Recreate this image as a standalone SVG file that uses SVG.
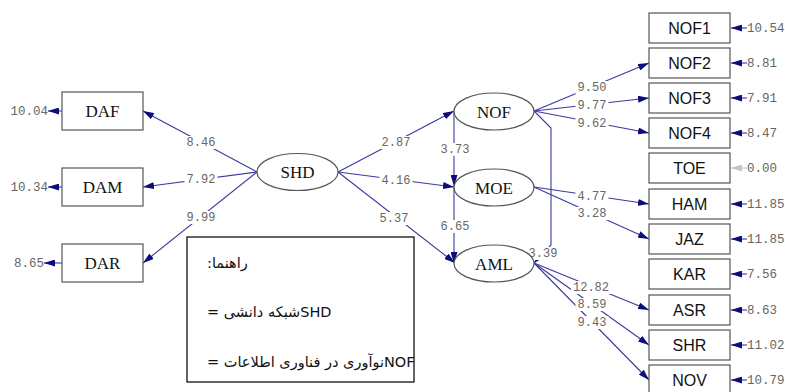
<svg xmlns="http://www.w3.org/2000/svg" width="785" height="392" viewBox="0 0 785 392">
<defs>
<marker id="ah" markerUnits="userSpaceOnUse" markerWidth="11" markerHeight="7" refX="11" refY="3.5" orient="auto"><path d="M0,0 L11,3.5 L0,7 z" fill="#0c0c7a"/></marker>
<marker id="ahg" markerUnits="userSpaceOnUse" markerWidth="11" markerHeight="7" refX="11" refY="3.5" orient="auto"><path d="M0,0 L11,3.5 L0,7 z" fill="#c4c4c4"/></marker>
<style>
.ln{stroke:#3a3aa0;stroke-width:1.1;fill:none}
.box{fill:#fff;stroke:#555;stroke-width:1.2}
.ell{fill:#fff;stroke:#555;stroke-width:1.2}
.ser{font-family:"Liberation Serif",serif;font-size:17px;fill:#111;text-anchor:middle}
.san{font-family:"Liberation Sans",sans-serif;font-size:16px;fill:#111;text-anchor:middle}
.num{font-family:"Liberation Mono",monospace;font-size:12px;fill:#666;text-anchor:middle}
.lb{fill:#fff}
.err{font-family:"Liberation Mono",monospace;font-size:12.5px;fill:#666}
.leg{font-family:"DejaVu Sans",sans-serif;font-size:14.5px;fill:#111}
</style>
</defs>
<rect width="785" height="392" fill="#fff"/>
<g id="connectors">
<line class="ln" x1="257" y1="172" x2="143" y2="111" marker-end="url(#ah)"/>
<line class="ln" x1="257" y1="172" x2="143" y2="187" marker-end="url(#ah)"/>
<line class="ln" x1="257" y1="172" x2="143" y2="263" marker-end="url(#ah)"/>
<line class="ln" x1="338" y1="172" x2="454" y2="111" marker-end="url(#ah)"/>
<line class="ln" x1="338" y1="172" x2="454" y2="187" marker-end="url(#ah)"/>
<line class="ln" x1="338" y1="172" x2="455" y2="263" marker-end="url(#ah)"/>
<line class="ln" x1="454" y1="111" x2="454" y2="186" marker-end="url(#ah)"/>
<line class="ln" x1="454" y1="187" x2="454" y2="263" marker-end="url(#ah)"/>
<path class="ln" d="M534,111 L551,128 L551,245 L534,263" marker-end="url(#ah)"/>
<line class="ln" x1="534" y1="111" x2="649" y2="63" marker-end="url(#ah)"/>
<line class="ln" x1="534" y1="111" x2="649" y2="98" marker-end="url(#ah)"/>
<line class="ln" x1="534" y1="111" x2="649" y2="133" marker-end="url(#ah)"/>
<line class="ln" x1="534" y1="187" x2="649" y2="204" marker-end="url(#ah)"/>
<line class="ln" x1="534" y1="187" x2="649" y2="239" marker-end="url(#ah)"/>
<line class="ln" x1="534" y1="263" x2="649" y2="310" marker-end="url(#ah)"/>
<line class="ln" x1="534" y1="263" x2="649" y2="345" marker-end="url(#ah)"/>
<line class="ln" x1="534" y1="263" x2="649" y2="380" marker-end="url(#ah)"/>
<line class="ln" x1="62" y1="111" x2="48" y2="111" marker-end="url(#ah)"/>
<line class="ln" x1="62" y1="187" x2="48" y2="187" marker-end="url(#ah)"/>
<line class="ln" x1="62" y1="263" x2="44" y2="263" marker-end="url(#ah)"/>
<line class="ln" x1="747" y1="28" x2="731" y2="28" marker-end="url(#ah)"/>
<line class="ln" x1="747" y1="63" x2="731" y2="63" marker-end="url(#ah)"/>
<line class="ln" x1="747" y1="98" x2="731" y2="98" marker-end="url(#ah)"/>
<line class="ln" x1="747" y1="133" x2="731" y2="133" marker-end="url(#ah)"/>
<line x1="747" y1="168" x2="731" y2="168" stroke="#c4c4c4" stroke-width="1.1" marker-end="url(#ahg)"/>
<line class="ln" x1="747" y1="204" x2="731" y2="204" marker-end="url(#ah)"/>
<line class="ln" x1="747" y1="239" x2="731" y2="239" marker-end="url(#ah)"/>
<line class="ln" x1="747" y1="274" x2="731" y2="274" marker-end="url(#ah)"/>
<line class="ln" x1="747" y1="310" x2="731" y2="310" marker-end="url(#ah)"/>
<line class="ln" x1="747" y1="345" x2="731" y2="345" marker-end="url(#ah)"/>
<line class="ln" x1="747" y1="380" x2="731" y2="380" marker-end="url(#ah)"/>
<rect class="lb" x="184.5" y="136" width="33" height="13"/>
<rect class="lb" x="184.5" y="173" width="33" height="13"/>
<rect class="lb" x="184.5" y="211" width="33" height="13"/>
<rect class="lb" x="379.5" y="136" width="33" height="13"/>
<rect class="lb" x="379.5" y="174" width="33" height="13"/>
<rect class="lb" x="377.5" y="212" width="33" height="13"/>
<rect class="lb" x="438.5" y="143" width="33" height="13"/>
<rect class="lb" x="438.5" y="220" width="33" height="13"/>
<rect class="lb" x="528" y="247" width="30" height="13"/>
<rect class="lb" x="575.5" y="81" width="33" height="13"/>
<rect class="lb" x="575.5" y="99" width="33" height="13"/>
<rect class="lb" x="575.5" y="117" width="33" height="13"/>
<rect class="lb" x="575.5" y="190" width="33" height="13"/>
<rect class="lb" x="575.5" y="207" width="33" height="13"/>
<rect class="lb" x="571" y="281" width="40" height="13"/>
<rect class="lb" x="575.5" y="298" width="33" height="13"/>
<rect class="lb" x="575.5" y="316" width="33" height="13"/>
<text class="num" x="201" y="146">8.46</text>
<text class="num" x="201" y="183">7.92</text>
<text class="num" x="201" y="221">9.99</text>
<text class="num" x="396" y="146">2.87</text>
<text class="num" x="396" y="184">4.16</text>
<text class="num" x="394" y="222">5.37</text>
<text class="num" x="455" y="153">3.73</text>
<text class="num" x="455" y="230">6.65</text>
<text class="num" x="543" y="257">3.39</text>
<text class="num" x="592" y="91">9.50</text>
<text class="num" x="592" y="109">9.77</text>
<text class="num" x="592" y="127">9.62</text>
<text class="num" x="592" y="200">4.77</text>
<text class="num" x="592" y="217">3.28</text>
<text class="num" x="591" y="291">12.82</text>
<text class="num" x="592" y="308">8.59</text>
<text class="num" x="592" y="326">9.43</text>
<text class="err" x="48" y="115" text-anchor="end">10.04</text>
<text class="err" x="48" y="191" text-anchor="end">10.34</text>
<text class="err" x="44" y="267" text-anchor="end">8.65</text>
<text class="err" x="747" y="32">10.54</text>
<text class="err" x="747" y="67">8.81</text>
<text class="err" x="747" y="102">7.91</text>
<text class="err" x="747" y="137">8.47</text>
<text class="err" x="747" y="172" fill="#999">0.00</text>
<text class="err" x="747" y="208">11.85</text>
<text class="err" x="747" y="243">11.85</text>
<text class="err" x="747" y="278">7.56</text>
<text class="err" x="747" y="314">8.63</text>
<text class="err" x="747" y="349">11.02</text>
<text class="err" x="747" y="384">10.79</text>
</g>
<g id="DAF"><rect class="box" x="62" y="92" width="81" height="38"/><text class="ser" x="102.5" y="117">DAF</text></g>
<g id="DAM"><rect class="box" x="62" y="168" width="81" height="38"/><text class="ser" x="102.5" y="193">DAM</text></g>
<g id="DAR"><rect class="box" x="62" y="244" width="81" height="38"/><text class="ser" x="102.5" y="269">DAR</text></g>
<g id="SHD"><ellipse class="ell" cx="297.5" cy="172" rx="40.5" ry="18.5"/><text class="ser" x="297.5" y="178">SHD</text></g>
<g id="NOF"><ellipse class="ell" cx="494" cy="111.5" rx="40" ry="18.5"/><text class="ser" x="494" y="117.5">NOF</text></g>
<g id="MOE"><ellipse class="ell" cx="494" cy="187.5" rx="40" ry="18.5"/><text class="ser" x="494" y="193.5">MOE</text></g>
<g id="AML"><ellipse class="ell" cx="494" cy="263.5" rx="40" ry="18.5"/><text class="ser" x="494" y="269.5">AML</text></g>
<g id="NOF1"><rect class="box" x="649" y="13" width="81" height="30"/><text class="san" x="689.5" y="34">NOF1</text></g>
<g id="NOF2"><rect class="box" x="649" y="48" width="81" height="30"/><text class="san" x="689.5" y="69">NOF2</text></g>
<g id="NOF3"><rect class="box" x="649" y="83" width="81" height="30"/><text class="san" x="689.5" y="104">NOF3</text></g>
<g id="NOF4"><rect class="box" x="649" y="118" width="81" height="30"/><text class="san" x="689.5" y="139">NOF4</text></g>
<g id="TOE"><rect class="box" x="649" y="153" width="81" height="30"/><text class="san" x="689.5" y="174">TOE</text></g>
<g id="HAM"><rect class="box" x="649" y="189" width="81" height="30"/><text class="san" x="689.5" y="210">HAM</text></g>
<g id="JAZ"><rect class="box" x="649" y="224" width="81" height="30"/><text class="san" x="689.5" y="245">JAZ</text></g>
<g id="KAR"><rect class="box" x="649" y="259" width="81" height="30"/><text class="san" x="689.5" y="280">KAR</text></g>
<g id="ASR"><rect class="box" x="649" y="295" width="81" height="30"/><text class="san" x="689.5" y="316">ASR</text></g>
<g id="SHR"><rect class="box" x="649" y="330" width="81" height="30"/><text class="san" x="689.5" y="351">SHR</text></g>
<g id="NOV"><rect class="box" x="649" y="365" width="81" height="30"/><text class="san" x="689.5" y="386">NOV</text></g>
<g id="legend">
<rect x="187" y="237" width="227" height="145" fill="#fff" stroke="#111" stroke-width="1.3"/>
<text class="leg" x="207" y="268" direction="rtl" text-anchor="end">راهنما:</text>
<text class="leg" x="207" y="317" direction="rtl" text-anchor="end">SHDشبکه دانشی =</text>
<text class="leg" x="207" y="367" direction="rtl" text-anchor="end">NOFنوآوری در فناوری اطلاعات =</text>
</g>
</svg>
